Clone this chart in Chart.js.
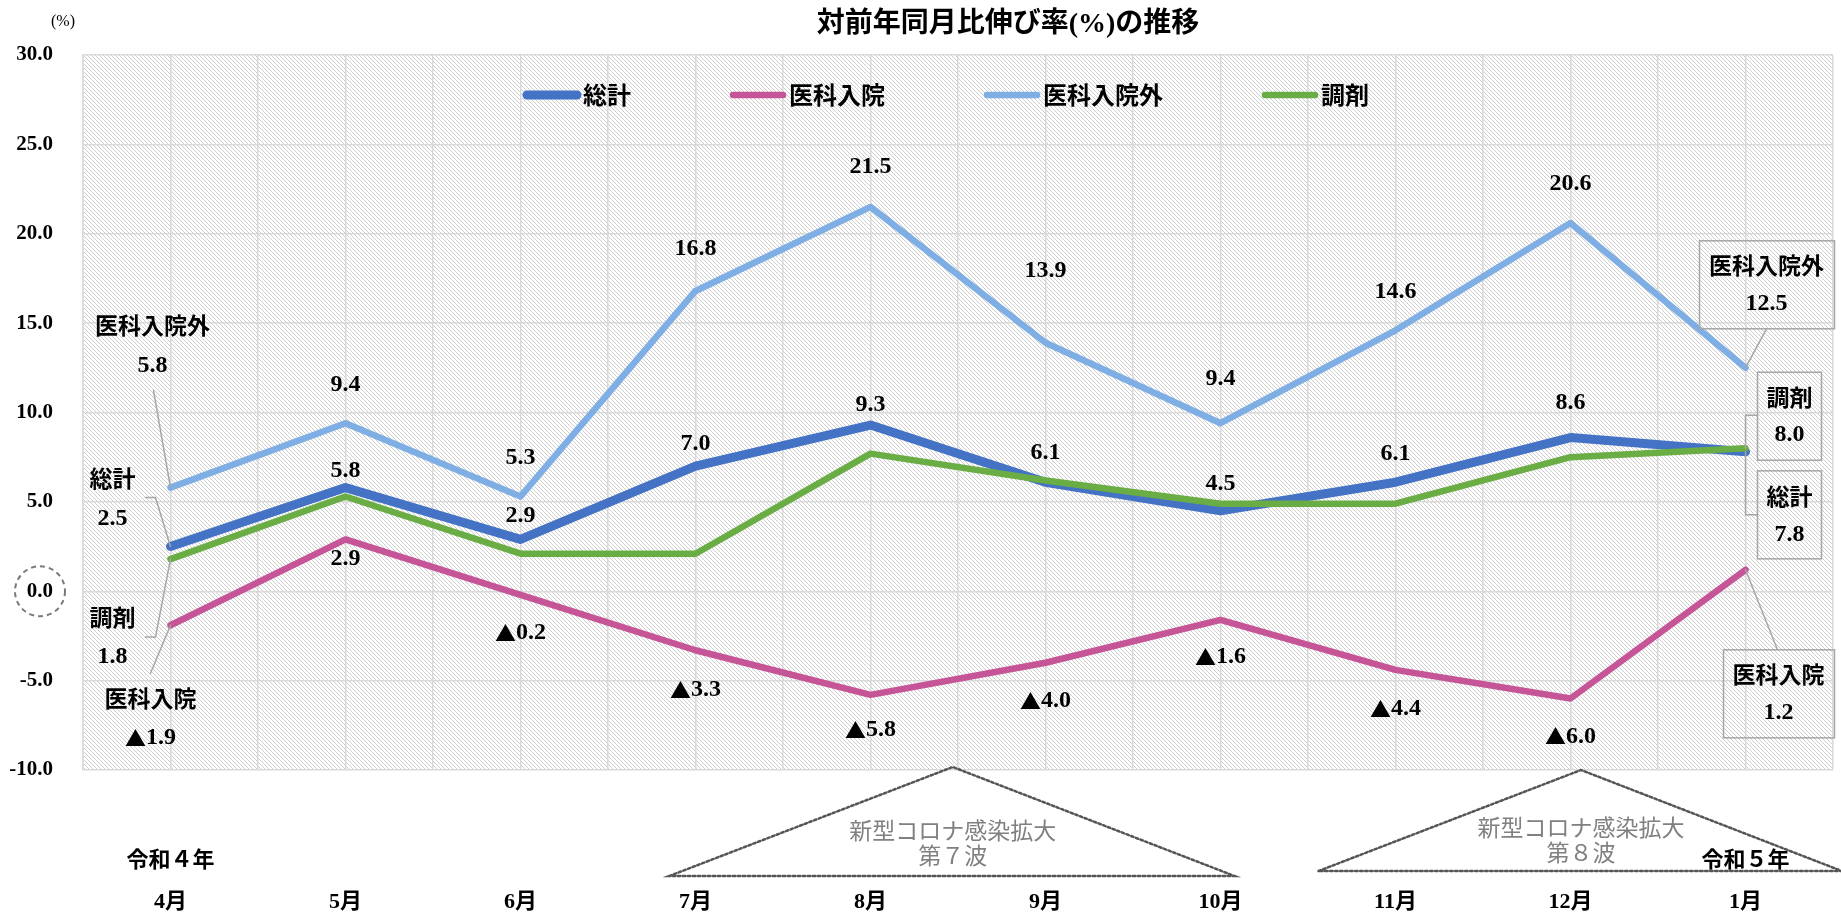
<!DOCTYPE html>
<html>
<head>
<meta charset="utf-8">
<script src="https://cdn.jsdelivr.net/npm/chart.js@4.4.1/dist/chart.umd.min.js"></script>
<style>
html, body { margin: 0; padding: 0; background: #fff; }
canvas { display: block; }
</style>
</head>
<body>
<canvas id="trend_plot" width="1841" height="913"></canvas>
<script>
'use strict';

// --- data (%, year-on-year) ---
const months = [['令和４年', '4月'], ['', '5月'], ['', '6月'], ['', '7月'], ['', '8月'],
                ['', '9月'], ['', '10月'], ['', '11月'], ['', '12月'], ['令和５年', '1月']];
const total      = [2.5, 5.8, 2.9, 7.0, 9.3, 6.1, 4.5, 6.1, 8.6, 7.8];
const inpatient  = [-1.9, 2.9, -0.2, -3.3, -5.8, -4.0, -1.6, -4.4, -6.0, 1.2];
const outpatient = [5.8, 9.4, 5.3, 16.8, 21.5, 13.9, 9.4, 14.6, 20.6, 12.5];
const dispensing = [1.8, 5.3, 2.1, 2.1, 7.7, 6.2, 4.9, 4.9, 7.5, 8.0];
const seriesNames = ['総計', '医科入院', '医科入院外', '調剤'];
const yMin = -10, yMax = 30, yStep = 5;

const SERIF = '"Liberation Serif", "Noto Sans CJK JP", serif';
const GOTHIC = '"Noto Sans CJK JP", sans-serif';
const colors = ['#4472c4', '#c65598', '#7eaee3', '#6aad45'];

// label offsets (px above/below each point), null = no plain label
const pointLabels = [
    {dataset: 0, dy: [null, -17, -24, -22, -20, -29, -27, -28, -35, null]},
    {dataset: 1, dy: [null, 19, 38, 40, 35, 38, 37, 39, 38, null]},
    {dataset: 2, dy: [null, -38, -39, -42, -40, -72, -44, -38, -39, null]}
];

// callouts with leader lines, offsets relative to the point
const callouts = [
    {dataset: 2, index: 0, name: [-18, -162], value: [-18, -122], leader: [[-17, -97]]},
    {dataset: 0, index: 0, name: [-58, -68], value: [-58, -28], leader: [[-25, -49], [-15, -49]]},
    {dataset: 3, index: 0, name: [-58, 58], value: [-58, 98], leader: [[-25, 78], [-15, 78]]},
    {dataset: 1, index: 0, name: [-20, 73], value: [-20, 113], leader: [[-20, 48]]},
    {dataset: 2, index: 9, name: [21, -103], value: [21, -64], leader: [[21, -39]], box: [-46, -127, 89, -39]},
    {dataset: 3, index: 9, name: [44, -51], value: [44, -13], leader: [[12, -33], [0, -33]], box: [12, -76, 76, 12]},
    {dataset: 0, index: 9, name: [44, 44], value: [44, 83], leader: [[12, 63], [0, 63]], box: [12, 19, 76, 107]},
    {dataset: 1, index: 9, name: [33, 104], value: [33, 143], leader: [[32, 80]], box: [-22, 80, 89, 168]}
];

// infection waves under the axis (category index positions)
const waves = [
    {text: ['新型コロナ感染拡大', '第７波'], apex: 4.47, left: 2.85, right: 6.08, apexY: 767, baseY: 876, textY: 833},
    {text: ['新型コロナ感染拡大', '第８波'], apex: 8.06, left: 6.56, right: 9.55, apexY: 770, baseY: 871, textY: 830}
];

// value text, negatives get a ▲ in the CJK font
function drawValue(ctx, v, x, y) {
    const num = Math.abs(v).toFixed(1);
    ctx.save();
    ctx.textAlign = 'left';
    ctx.font = 'bold 24px ' + SERIF;
    const wNum = ctx.measureText(num).width;
    if (v < 0) {
        ctx.font = '21px ' + GOTHIC;
        const wTri = ctx.measureText('▲').width;
        const x0 = x - (wTri + wNum) / 2;
        ctx.fillText('▲', x0, y);
        ctx.font = 'bold 24px ' + SERIF;
        ctx.fillText(num, x0 + wTri, y);
    } else {
        ctx.fillText(num, x - wNum / 2, y);
    }
    ctx.restore();
}

function makeHatch(ctx) {
    const c = document.createElement('canvas');
    c.width = 4; c.height = 4;
    const g = c.getContext('2d');
    g.fillStyle = '#ffffff';
    g.fillRect(0, 0, 4, 4);
    g.strokeStyle = '#cdcdcd';
    g.lineWidth = 1;
    g.beginPath();
    g.moveTo(-1, -1); g.lineTo(5, 5);
    g.moveTo(-1, 3); g.lineTo(1, 5);
    g.moveTo(3, -1); g.lineTo(5, 1);
    g.stroke();
    return ctx.createPattern(c, 'repeat');
}

const decorPlugin = {
    id: 'decor',
    beforeDraw(chart) {
        const {ctx, chartArea: a} = chart;
        ctx.save();
        ctx.fillStyle = '#ffffff';
        ctx.fillRect(0, 0, chart.width, chart.height);
        ctx.fillStyle = makeHatch(ctx);
        ctx.fillRect(a.left, a.top, a.right - a.left, a.bottom - a.top);
        ctx.restore();
    },
    afterDatasetsDraw(chart) {
        const {ctx, chartArea: a} = chart;
        const xs = chart.scales.x, ys = chart.scales.y;
        ctx.save();

        // title + unit
        ctx.fillStyle = '#000';
        ctx.textAlign = 'center';
        ctx.textBaseline = 'middle';
        ctx.font = 'bold 28px ' + SERIF;
        ctx.fillText('対前年同月比伸び率(%)の推移', 1008, 25);
        ctx.font = '16px ' + SERIF;
        ctx.fillText('(%)', 63, 22);

        // dashed circle round 0.0
        const y0 = ys.getPixelForValue(0);
        ctx.strokeStyle = '#7a7a7a';
        ctx.lineWidth = 2;
        ctx.setLineDash([5, 4]);
        ctx.beginPath();
        ctx.arc(40, y0, 25, 0, Math.PI * 2);
        ctx.stroke();
        ctx.setLineDash([]);

        // legend inside the plot
        let lx = a.left + 440;
        const ly = a.top + 40;
        ctx.font = 'bold 24px ' + GOTHIC;
        ctx.textAlign = 'left';
        seriesNames.forEach(name => {
            const ds = chart.data.datasets.find(d => d.label === name);
            ctx.strokeStyle = ds.borderColor;
            ctx.lineWidth = ds.borderWidth;
            ctx.lineCap = 'round';
            ctx.beginPath();
            ctx.moveTo(lx + 4, ly);
            ctx.lineTo(lx + 54, ly);
            ctx.stroke();
            ctx.fillStyle = '#000';
            ctx.fillText(name, lx + 60, ly);
            lx += 60 + ctx.measureText(name).width + 98;
        });

        // plain point labels
        ctx.textAlign = 'center';
        ctx.fillStyle = '#000';
        pointLabels.forEach(cfg => {
            const meta = chart.getDatasetMeta(cfg.dataset);
            const vals = chart.data.datasets[cfg.dataset].data;
            cfg.dy.forEach((dy, i) => {
                if (dy === null) return;
                const p = meta.data[i];
                drawValue(ctx, vals[i], p.x, p.y + dy);
            });
        });

        // callouts
        callouts.forEach(c => {
            const ds = chart.data.datasets[c.dataset];
            const p = chart.getDatasetMeta(c.dataset).data[c.index];
            ctx.strokeStyle = '#a6a6a6';
            ctx.lineWidth = 1.5;
            if (c.box) {
                ctx.strokeRect(p.x + c.box[0], p.y + c.box[1], c.box[2] - c.box[0], c.box[3] - c.box[1]);
            }
            ctx.beginPath();
            c.leader.forEach((pt, k) => {
                if (k === 0) ctx.moveTo(p.x + pt[0], p.y + pt[1]);
                else ctx.lineTo(p.x + pt[0], p.y + pt[1]);
            });
            ctx.lineTo(p.x, p.y);
            ctx.stroke();
            ctx.fillStyle = '#000';
            ctx.textAlign = 'center';
            ctx.font = 'bold 23px ' + GOTHIC;
            ctx.fillText(ds.label, p.x + c.name[0], p.y + c.name[1]);
            drawValue(ctx, ds.data[c.index], p.x + c.value[0], p.y + c.value[1]);
        });

        // wave triangles
        waves.forEach(w => {
            const ax = xs.getPixelForValue(w.apex);
            ctx.strokeStyle = '#555';
            ctx.lineWidth = 2.5;
            ctx.setLineDash([2.5, 2.5]);
            ctx.beginPath();
            ctx.moveTo(xs.getPixelForValue(w.left), w.baseY);
            ctx.lineTo(ax, w.apexY);
            ctx.lineTo(xs.getPixelForValue(w.right), w.baseY);
            ctx.closePath();
            ctx.stroke();
            ctx.setLineDash([]);
            ctx.fillStyle = '#808080';
            ctx.textAlign = 'center';
            ctx.font = '23px ' + SERIF;
            ctx.fillText(w.text[0], ax, w.textY);
            ctx.fillText(w.text[1], ax, w.textY + 25);
        });
        ctx.restore();
    }
};

const lineStyle = {
    pointRadius: 0,
    tension: 0,
    borderCapStyle: 'round',
    borderJoinStyle: 'round',
    clip: false
};

new Chart('trend_plot', {
    type: 'line',
    data: {
        labels: months,
        datasets: [
            Object.assign({label: '総計', data: total, borderColor: colors[0], borderWidth: 9, order: 1}, lineStyle),
            Object.assign({label: '医科入院', data: inpatient, borderColor: colors[1], borderWidth: 6.5, order: 2}, lineStyle),
            Object.assign({label: '医科入院外', data: outpatient, borderColor: colors[2], borderWidth: 6.5, order: 3}, lineStyle),
            Object.assign({label: '調剤', data: dispensing, borderColor: colors[3], borderWidth: 6.5, order: 0}, lineStyle)
        ]
    },
    options: {
        responsive: false,
        animation: false,
        devicePixelRatio: 1,
        layout: {padding: {top: 55, right: 8, left: 0, bottom: 0}},
        plugins: {
            legend: {display: false},
            title: {display: false},
            tooltip: {enabled: false}
        },
        scales: {
            x: {
                type: 'category',
                offset: true,
                grid: {color: '#d9d9d9', lineWidth: 1.5, drawTicks: false, offset: true},
                border: {display: false},
                ticks: {
                    color: '#000',
                    padding: 71,
                    maxRotation: 0,
                    autoSkip: false,
                    font: {family: SERIF, size: 22, weight: 'bold', lineHeight: 1.86}
                },
                afterFit: s => { s.height = 143; s.paddingLeft = 0; s.paddingRight = 0; }
            },
            x2: {
                type: 'category',
                labels: months,
                offset: true,
                position: 'bottom',
                grid: {color: '#d9d9d9', lineWidth: 1.5, drawTicks: false, offset: false},
                border: {display: false},
                ticks: {display: false},
                afterFit: s => { s.height = 0; s.paddingLeft = 0; s.paddingRight = 0; }
            },
            y: {
                min: yMin,
                max: yMax,
                grid: {color: '#d9d9d9', lineWidth: 1.5, drawTicks: false},
                border: {color: '#d9d9d9', width: 1.5},
                ticks: {
                    stepSize: yStep,
                    color: '#000',
                    padding: 30,
                    font: {family: SERIF, size: 21, weight: 'bold'},
                    callback: v => v.toFixed(1)
                },
                afterFit: s => { s.width = 83; }
            }
        }
    },
    plugins: [decorPlugin]
});
</script>
</body>
</html>
